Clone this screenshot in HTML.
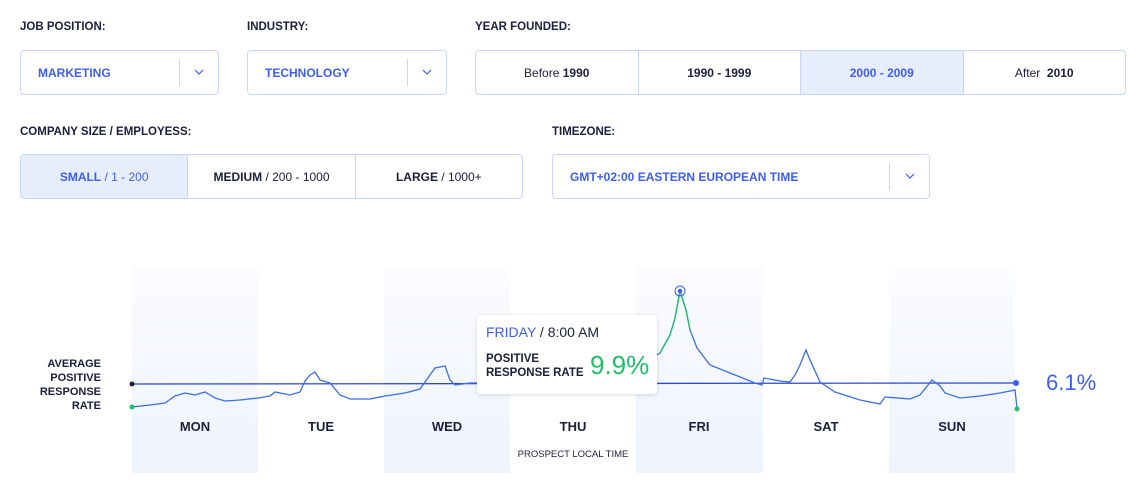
<!DOCTYPE html><html><head><style>
body{margin:0;width:1147px;height:491px;background:#fff;font-family:"Liberation Sans",sans-serif;position:relative;overflow:hidden;color:#1b1f3b}
.a{position:absolute}
.lab{font-size:11.5px;font-weight:bold;color:#1b1f3b}
.box{position:absolute;border:1px solid #c9d6fb;border-radius:4px;box-sizing:border-box;display:flex;overflow:hidden}
.sel{color:#3f5ef0;font-size:12px;font-weight:bold;align-items:center;padding-left:17px}
.sep{position:absolute;top:8px;bottom:8px;width:1px;background:#c9d6fb}
.cell{flex:1;display:flex;align-items:center;justify-content:center;font-size:12px;border-right:1px solid #c9d6fb}
.cell:last-child{border-right:none}
.on{background:#e6edfd;color:#3f5ef0}
.day{position:absolute;top:419px;font-size:13px;font-weight:bold;width:126px;text-align:center}
.chev{position:absolute;top:18px}
</style></head><body>
<div class="a lab" style="left:20px;top:21px">JOB POSITION:</div>
<div class="a lab" style="left:247px;top:21px">INDUSTRY:</div>
<div class="a lab" style="left:475px;top:21px">YEAR FOUNDED:</div>
<div class="box sel" style="left:20px;top:50px;width:199px;height:45px">MARKETING<div class="sep" style="left:158px"></div><svg class="chev" style="left:173px" width="10" height="6"><polyline points="1,1 5,5 9,1" fill="none" stroke="#3f5ef0" stroke-width="1.2"/></svg></div>
<div class="box sel" style="left:247px;top:50px;width:200px;height:45px">TECHNOLOGY<div class="sep" style="left:159px"></div><svg class="chev" style="left:174px" width="10" height="6"><polyline points="1,1 5,5 9,1" fill="none" stroke="#3f5ef0" stroke-width="1.2"/></svg></div>
<div class="box" style="left:475px;top:50px;width:651px;height:45px">
<div class="cell">Before&nbsp;<b>1990</b></div><div class="cell"><b>1990 - 1999</b></div><div class="cell on"><b>2000 - 2009</b></div><div class="cell">After&nbsp;&nbsp;<b>2010</b></div></div>
<div class="a lab" style="left:20px;top:126px">COMPANY SIZE / EMPLOYESS:</div>
<div class="a lab" style="left:552px;top:126px">TIMEZONE:</div>
<div class="box" style="left:20px;top:154px;width:503px;height:45px">
<div class="cell on"><b>SMALL</b>&nbsp;/ 1 - 200</div><div class="cell"><b>MEDIUM</b>&nbsp;/ 200 - 1000</div><div class="cell"><b>LARGE</b>&nbsp;/ 1000+</div></div>
<div class="box sel" style="left:552px;top:154px;width:378px;height:45px">GMT+02:00 EASTERN EUROPEAN TIME<div class="sep" style="left:336px"></div><svg class="chev" style="left:352px" width="10" height="6"><polyline points="1,1 5,5 9,1" fill="none" stroke="#3f5ef0" stroke-width="1.2"/></svg></div>
<svg class="a" style="left:0;top:0" width="1147" height="491">
<defs><linearGradient id="g" x1="0" y1="0" x2="0" y2="1"><stop offset="0" stop-color="#fbfcff"/><stop offset="1" stop-color="#eef3fd"/></linearGradient></defs>
<rect x="132" y="267" width="126" height="206" fill="url(#g)"/>
<rect x="384" y="267" width="126" height="206" fill="url(#g)"/>
<rect x="636" y="267" width="127" height="206" fill="url(#g)"/>
<rect x="889" y="267" width="126" height="206" fill="url(#g)"/>
<line x1="132" y1="384" x2="1016" y2="383" stroke="#2b47c9" stroke-width="1.3"/>
<circle cx="132" cy="384" r="2.5" fill="#1b1f3b"/><circle cx="1016" cy="383" r="3" fill="#3f5ef0"/>
<polyline fill="none" stroke="#3a6fe0" stroke-width="1.3" points="132,407 150,405 165,403 175,396 185,393 195,395 205,392 215,398 225,401 240,400 258,398 270,396 275,392 290,395 300,392 305,381 310,375 315,372 320,380 330,383 340,395 350,399 370,399 385,396 405,393 420,389 430,375 435,368 445,366 450,380 455,385 470,383 480,383 560,380 640,365 650,359 660,353 670,335 675,318 680,291 686,310 690,330 697,348 710,365 740,377 755,383 762,385 764,378 780,381 790,382 795,375 800,365 806,350 810,360 820,382 835,392 860,400 880,404 885,397 910,399 920,395 932,380 940,386 945,393 960,398 980,396 1000,393 1015,390 1017,408"/>
<polyline fill="none" stroke="#1fc06a" stroke-width="1.3" points="660,353 670,335 675,318 680,291 686,310 690,330"/>
<circle cx="132" cy="407" r="2.5" fill="#1fc06a"/><circle cx="1017" cy="409" r="2.5" fill="#1fc06a"/>
<circle cx="680" cy="291" r="5" fill="none" stroke="#3f5ef0"/><circle cx="680" cy="291" r="2.2" fill="#3f5ef0"/>
</svg>
<div class="a" style="left:20px;top:357px;width:81px;text-align:right;font-size:11px;font-weight:bold;line-height:14px">AVERAGE<br>POSITIVE<br>RESPONSE<br>RATE</div>
<div class="a" style="left:477px;top:315px;width:180px;height:79px;background:#fff;border-radius:4px;box-shadow:0 1px 5px rgba(0,0,0,.15)">
<div class="a" style="left:9px;top:9px;font-size:14px"><span style="color:#3f5ef0">FRIDAY</span> / 8:00 AM</div>
<div class="a" style="left:9px;top:37px;font-size:11.5px;font-weight:bold;line-height:14px">POSITIVE<br>RESPONSE RATE</div>
<div class="a" style="left:113px;top:35px;font-size:26px;color:#1fc06a">9.9%</div></div>
<div class="day" style="left:132px">MON</div><div class="day" style="left:258px">TUE</div><div class="day" style="left:384px">WED</div><div class="day" style="left:510px">THU</div><div class="day" style="left:636px">FRI</div><div class="day" style="left:763px">SAT</div><div class="day" style="left:889px">SUN</div>
<div class="a" style="left:510px;top:449px;width:126px;text-align:center;font-size:9.5px">PROSPECT LOCAL TIME</div>
<div class="a" style="left:1046px;top:370px;font-size:22px;color:#3f5ef0">6.1%</div>
</body></html>
